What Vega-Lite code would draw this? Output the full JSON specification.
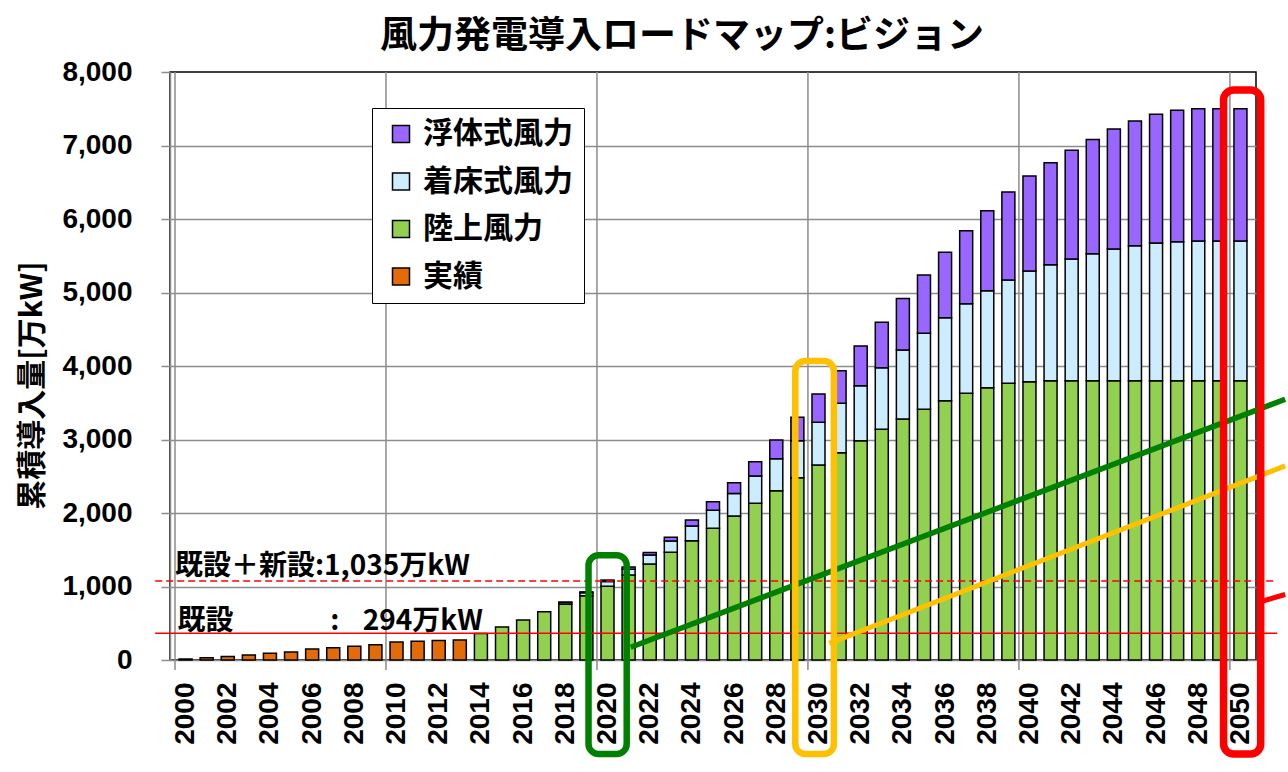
{
  "$schema": "https://vega.github.io/schema/vega-lite/v6.json",
  "autosize": {"type": "none"},
  "padding": {"left": 170, "top": 72, "right": 32, "bottom": 112},
  "width": 1086,
  "height": 588,
  "background": "white",
  "title": {"text": "風力発電導入ロードマップ:ビジョン", "font": "Noto Sans CJK JP", "fontSize": 37, "fontWeight": "bold", "color": "black", "anchor": "middle", "frame": "group", "dx": -31, "dy": 47, "offset": 20, "baseline": "alphabetic"},
  "config": {"view": {"stroke": "black", "strokeWidth": 1.5}},
  "layer": [
    {"data": {"values": [{}]}, "mark": {"type": "rule", "color": "#8c8c8c", "strokeWidth": 1.5},
     "encoding": {"x": {"datum": 1999.5, "type": "quantitative"}, "y": {"datum": -136, "type": "quantitative"}, "y2": {"datum": 8000}}},
    {"data": {"values": [{}]}, "mark": {"type": "rule", "color": "#8c8c8c", "strokeWidth": 1.5},
     "encoding": {"x": {"datum": 2009.5, "type": "quantitative"}, "y": {"datum": -136, "type": "quantitative"}, "y2": {"datum": 8000}}},
    {"data": {"values": [{}]}, "mark": {"type": "rule", "color": "#8c8c8c", "strokeWidth": 1.5},
     "encoding": {"x": {"datum": 2019.5, "type": "quantitative"}, "y": {"datum": -136, "type": "quantitative"}, "y2": {"datum": 8000}}},
    {"data": {"values": [{}]}, "mark": {"type": "rule", "color": "#8c8c8c", "strokeWidth": 1.5},
     "encoding": {"x": {"datum": 2029.5, "type": "quantitative"}, "y": {"datum": -136, "type": "quantitative"}, "y2": {"datum": 8000}}},
    {"data": {"values": [{}]}, "mark": {"type": "rule", "color": "#8c8c8c", "strokeWidth": 1.5},
     "encoding": {"x": {"datum": 2039.5, "type": "quantitative"}, "y": {"datum": -136, "type": "quantitative"}, "y2": {"datum": 8000}}},
    {"data": {"values": [{}]}, "mark": {"type": "rule", "color": "#8c8c8c", "strokeWidth": 1.5},
     "encoding": {"x": {"datum": 2049.5, "type": "quantitative"}, "y": {"datum": -136, "type": "quantitative"}, "y2": {"datum": 8000}}},
    {
      "data": {"values": [
        {"year": 2000, "実績": 14}, {"year": 2001, "実績": 31}, {"year": 2002, "実績": 46}, {"year": 2003, "実績": 68},
        {"year": 2004, "実績": 93}, {"year": 2005, "実績": 108}, {"year": 2006, "実績": 149}, {"year": 2007, "実績": 167},
        {"year": 2008, "実績": 188}, {"year": 2009, "実績": 206}, {"year": 2010, "実績": 244}, {"year": 2011, "実績": 256},
        {"year": 2012, "実績": 264}, {"year": 2013, "実績": 271},
        {"year": 2014, "陸上風力": 360}, {"year": 2015, "陸上風力": 450}, {"year": 2016, "陸上風力": 545}, {"year": 2017, "陸上風力": 655},
        {"year": 2018, "陸上風力": 760, "着床式風力": 22, "浮体式風力": 6},
        {"year": 2019, "陸上風力": 875, "着床式風力": 40, "浮体式風力": 12},
        {"year": 2020, "陸上風力": 1005, "着床式風力": 63, "浮体式風力": 20},
        {"year": 2021, "陸上風力": 1155, "着床式風力": 78, "浮体式風力": 32},
        {"year": 2022, "陸上風力": 1305, "着床式風力": 123, "浮体式風力": 35},
        {"year": 2023, "陸上風力": 1465, "着床式風力": 154, "浮体式風力": 50},
        {"year": 2024, "陸上風力": 1624, "着床式風力": 199, "浮体式風力": 82},
        {"year": 2025, "陸上風力": 1791, "着床式風力": 245, "浮体式風力": 118},
        {"year": 2026, "陸上風力": 1959, "着床式風力": 308, "浮体式風力": 146},
        {"year": 2027, "陸上風力": 2132, "着床式風力": 371, "浮体式風力": 195},
        {"year": 2028, "陸上風力": 2304, "着床式風力": 435, "浮体式風力": 254},
        {"year": 2029, "陸上風力": 2480, "着床式風力": 504, "浮体式風力": 318},
        {"year": 2030, "陸上風力": 2653, "着床式風力": 581, "浮体式風力": 385},
        {"year": 2031, "陸上風力": 2821, "着床式風力": 671, "浮体式風力": 444},
        {"year": 2032, "陸上風力": 2984, "着床式風力": 748, "浮体式風力": 540},
        {"year": 2033, "陸上風力": 3138, "着床式風力": 837, "浮体式風力": 619},
        {"year": 2034, "陸上風力": 3279, "着床式風力": 939, "浮体式風力": 702},
        {"year": 2035, "陸上風力": 3410, "着床式風力": 1034, "浮体式風力": 794},
        {"year": 2036, "陸上風力": 3528, "着床式風力": 1129, "浮体式風力": 890},
        {"year": 2037, "陸上風力": 3628, "着床式風力": 1220, "浮体式風力": 993},
        {"year": 2038, "陸上風力": 3705, "着床式風力": 1320, "浮体式風力": 1088},
        {"year": 2039, "陸上風力": 3764, "着床式風力": 1406, "浮体式風力": 1197},
        {"year": 2040, "陸上風力": 3787, "着床式風力": 1506, "浮体式風力": 1292},
        {"year": 2041, "陸上風力": 3800, "着床式風力": 1579, "浮体式風力": 1387},
        {"year": 2042, "陸上風力": 3800, "着床式風力": 1656, "浮体式風力": 1478},
        {"year": 2043, "陸上風力": 3800, "着床式風力": 1728, "浮体式風力": 1554},
        {"year": 2044, "陸上風力": 3800, "着床式風力": 1792, "浮体式風力": 1632},
        {"year": 2045, "陸上風力": 3800, "着床式風力": 1837, "浮体式風力": 1696},
        {"year": 2046, "陸上風力": 3800, "着床式風力": 1873, "浮体式風力": 1751},
        {"year": 2047, "陸上風力": 3800, "着床式風力": 1891, "浮体式風力": 1788},
        {"year": 2048, "陸上風力": 3800, "着床式風力": 1900, "浮体式風力": 1800},
        {"year": 2049, "陸上風力": 3800, "着床式風力": 1900, "浮体式風力": 1800},
        {"year": 2050, "陸上風力": 3800, "着床式風力": 1900, "浮体式風力": 1800}
      ]},
      "transform": [
        {"fold": ["実績", "陸上風力", "着床式風力", "浮体式風力"], "as": ["type", "value"]},
        {"filter": "isValid(datum.value)"},
        {"calculate": "indexof(['実績','陸上風力','着床式風力','浮体式風力'], datum.type)", "as": "ord"}
      ],
      "mark": {"type": "bar", "size": 13, "stroke": "black", "strokeWidth": 1.5},
      "encoding": {
        "x": {
          "field": "year", "type": "quantitative",
          "scale": {"domain": [1999.5, 2050.5], "nice": false, "zero": false},
          "axis": {
            "values": [2000, 2002, 2004, 2006, 2008, 2010, 2012, 2014, 2016, 2018, 2020, 2022, 2024, 2026, 2028, 2030, 2032, 2034, 2036, 2038, 2040, 2042, 2044, 2046, 2048, 2050],
            "labelExpr": "format(datum.value, 'd')",
            "labelAngle": 270, "labelAlign": "right", "labelBaseline": "middle",
            "labelFont": "Liberation Sans", "labelFontSize": 28, "labelFontWeight": "bold", "labelColor": "black",
            "labelPadding": 12, "labelOverlap": false, "labelFlush": false, "labelBound": false,
            "tickSize": 10, "tickOpacity": 0,
            "grid": false,
            "domainColor": "#8c8c8c", "domainWidth": 1.5,
            "title": null
          }
        },
        "y": {
          "field": "value", "type": "quantitative", "stack": "zero",
          "scale": {"domain": [0, 8000], "nice": false},
          "axis": {
            "values": [0, 500, 1000, 1500, 2000, 2500, 3000, 3500, 4000, 4500, 5000, 5500, 6000, 6500, 7000, 7500, 8000],
            "labelExpr": "datum.value % 1000 == 0 ? format(datum.value, ',') : ''",
            "labelFont": "Liberation Sans", "labelFontSize": 28, "labelFontWeight": "bold", "labelColor": "black",
            "labelPadding": 29, "labelOverlap": false,
            "tickSize": 9, "tickColor": "#8c8c8c", "tickWidth": 1.5,
            "tickOpacity": {"condition": {"test": "datum.value % 1000 == 0", "value": 1}, "value": 0},
            "grid": true,
            "gridColor": {"condition": {"test": "datum.value % 1000 == 0", "value": "#8c8c8c"}, "value": "#d4d4d4"},
            "gridWidth": 1.3,
            "gridOpacity": {"condition": {"test": "datum.value >= 8000 || datum.value <= 0", "value": 0}, "value": 1},
            "domainColor": "#8c8c8c", "domainWidth": 1.5,
            "title": "累積導入量[万kW]",
            "titleFont": "Noto Sans CJK JP", "titleFontSize": 30, "titleFontWeight": "bold", "titleColor": "black",
            "titleX": -138, "titleY": 313, "titleAngle": 270, "titleAlign": "center", "titleBaseline": "middle"
          }
        },
        "color": {
          "field": "type", "type": "nominal",
          "scale": {"domain": ["浮体式風力", "着床式風力", "陸上風力", "実績"], "range": ["#9966FF", "#CCECFF", "#92D050", "#E36C09"]},
          "legend": {
            "orient": "none", "legendX": 202, "legendY": 36, "title": null, "direction": "vertical",
            "symbolType": "square", "symbolSize": 289, "symbolStrokeColor": "black", "symbolStrokeWidth": 1.5,
            "labelFont": "Noto Sans CJK JP", "labelFontSize": 30, "labelFontWeight": "bold", "labelColor": "black",
            "labelOffset": 7, "rowPadding": 17.5, "padding": 11, "symbolOffset": 3, "labelLimit": 400,
            "strokeColor": "black", "fillColor": "white"
          }
        },
        "order": {"field": "ord", "type": "quantitative", "sort": "ascending"}
      }
    },
    {
      "data": {"values": [{}]},
      "mark": {"type": "rule", "color": "#FF0000", "strokeWidth": 1.5, "strokeDash": [7, 4]},
      "encoding": {"x": {"datum": 1998.56, "type": "quantitative"}, "x2": {"datum": 2051.55}, "y": {"datum": 1075, "type": "quantitative"}}
    },
    {
      "data": {"values": [{}]},
      "mark": {"type": "rule", "color": "#FF0000", "strokeWidth": 1.5},
      "encoding": {"x": {"datum": 1998.56, "type": "quantitative"}, "x2": {"datum": 2051.74}, "y": {"datum": 363, "type": "quantitative"}}
    },
    {
      "data": {"values": [{}]},
      "mark": {"type": "text", "text": "既設＋新設:1,035万kW", "font": "Noto Sans CJK JP", "fontSize": 28, "fontWeight": "bold", "align": "left", "baseline": "alphabetic", "color": "black"},
      "encoding": {"x": {"datum": 1999.5, "type": "quantitative"}, "y": {"datum": 1156, "type": "quantitative"}}
    },
    {
      "data": {"values": [{}]},
      "mark": {"type": "text", "text": "既設", "font": "Noto Sans CJK JP", "fontSize": 28, "fontWeight": "bold", "align": "left", "baseline": "alphabetic", "color": "black"},
      "encoding": {"x": {"datum": 1999.62, "type": "quantitative"}, "y": {"datum": 408, "type": "quantitative"}}
    },
    {
      "data": {"values": [{}]},
      "mark": {"type": "text", "text": ":", "font": "Noto Sans CJK JP", "fontSize": 28, "fontWeight": "bold", "align": "center", "baseline": "alphabetic", "color": "black"},
      "encoding": {"x": {"datum": 2007.07, "type": "quantitative"}, "y": {"datum": 408, "type": "quantitative"}}
    },
    {
      "data": {"values": [{}]},
      "mark": {"type": "text", "text": "294万kW", "font": "Noto Sans CJK JP", "fontSize": 28, "fontWeight": "bold", "align": "left", "baseline": "alphabetic", "color": "black"},
      "encoding": {"x": {"datum": 2008.4, "type": "quantitative"}, "y": {"datum": 408, "type": "quantitative"}}
    },
    {
      "data": {"values": [{}]},
      "mark": {"type": "rule", "color": "#008000", "strokeWidth": 5.5},
      "encoding": {"x": {"datum": 2021.1, "type": "quantitative"}, "y": {"datum": 173, "type": "quantitative"}, "x2": {"datum": 2052.12}, "y2": {"datum": 3547}}
    },
    {
      "data": {"values": [{}]},
      "mark": {"type": "rule", "color": "#FFC000", "strokeWidth": 5},
      "encoding": {"x": {"datum": 2030.51, "type": "quantitative"}, "y": {"datum": 227, "type": "quantitative"}, "x2": {"datum": 2052.12}, "y2": {"datum": 2641}}
    },
    {
      "data": {"values": [{}]},
      "mark": {"type": "rule", "color": "#FF0000", "strokeWidth": 5},
      "encoding": {"x": {"datum": 2051.06, "type": "quantitative"}, "y": {"datum": 803, "type": "quantitative"}, "x2": {"datum": 2052.12}, "y2": {"datum": 891}}
    },
    {
      "data": {"values": [{}]},
      "mark": {"type": "rect", "fill": "white", "fillOpacity": 0, "stroke": "#008000", "strokeWidth": 6.5, "cornerRadius": 10},
      "encoding": {"x": {"datum": 2019.1, "type": "quantitative"}, "x2": {"datum": 2020.91}, "y": {"datum": 1424, "type": "quantitative"}, "y2": {"datum": -1279}}
    },
    {
      "data": {"values": [{}]},
      "mark": {"type": "rect", "fill": "white", "fillOpacity": 0, "stroke": "#FFC000", "strokeWidth": 6.5, "cornerRadius": 10},
      "encoding": {"x": {"datum": 2028.9, "type": "quantitative"}, "x2": {"datum": 2030.73}, "y": {"datum": 4068, "type": "quantitative"}, "y2": {"datum": -1279}}
    },
    {
      "data": {"values": [{}]},
      "mark": {"type": "rect", "fill": "white", "fillOpacity": 0, "stroke": "#FF0000", "strokeWidth": 7.5, "cornerRadius": 10},
      "encoding": {"x": {"datum": 2049.2, "type": "quantitative"}, "x2": {"datum": 2050.96}, "y": {"datum": 7755, "type": "quantitative"}, "y2": {"datum": -1279}}
    }
  ]
}
